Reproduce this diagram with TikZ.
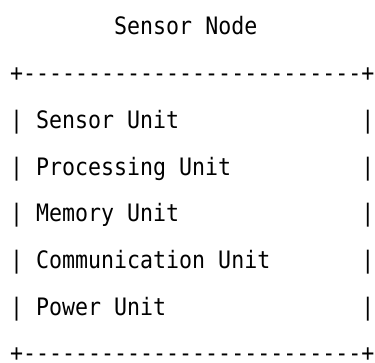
\documentclass[tikz,border=0pt]{standalone}
\usepackage{fontspec}
\setmonofont{DejaVu Sans Mono}[FakeStretch=0.9]
\begin{document}
\begin{tikzpicture}[x=1pt,y=1pt,
  asc/.style={anchor=base west,inner sep=0pt,outer sep=0pt,
    font=\ttfamily\fontsize{24}{24}\selectfont,text=black}]
\useasboundingbox[fill=white] (0,0) rectangle (375,-362);
\def\lx{10.2}
\node[asc] (title)  at (\lx,-34.8)  {~~~~~~~~Sensor~Node};
\node[asc] (top)    at (\lx,-81.3)  {+--------------------------+};
\node[asc] (r1)     at (\lx,-128.3) {|~Sensor~Unit~~~~~~~~~~~~~~|};
\node[asc] (r2)     at (\lx,-175.0) {|~Processing~Unit~~~~~~~~~~|};
\node[asc] (r3)     at (\lx,-221.8) {|~Memory~Unit~~~~~~~~~~~~~~|};
\node[asc] (r4)     at (\lx,-268.6) {|~Communication~Unit~~~~~~~|};
\node[asc] (r5)     at (\lx,-315.3) {|~Power~Unit~~~~~~~~~~~~~~~|};
\node[asc,text depth=0pt] (bottom) at (\lx,-361.6) {+--------------------------+};
\end{tikzpicture}
\end{document}
